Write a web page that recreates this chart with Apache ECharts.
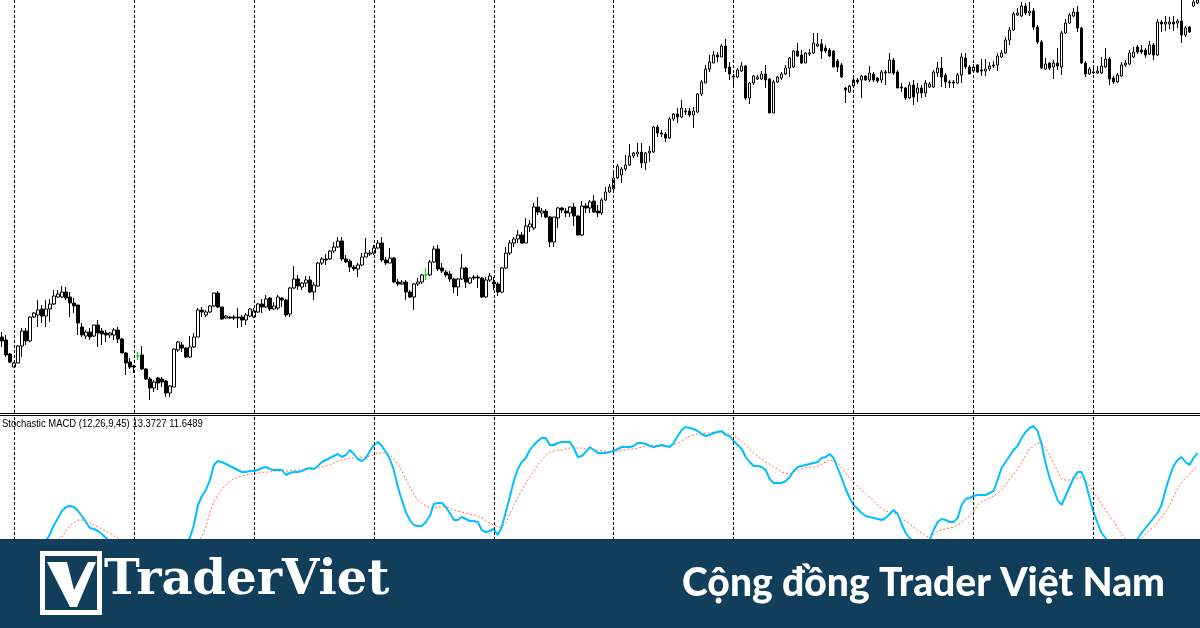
<!DOCTYPE html>
<html>
<head>
<meta charset="utf-8">
<script src="https://cdn.jsdelivr.net/npm/echarts@6/dist/echarts.min.js"></script>
<style>
  html, body { margin: 0; padding: 0; background: #ffffff; }
  #chart { width: 1200px; height: 628px; }
</style>
</head>
<body>
<div id="chart"></div>
<script>
// price bars (arbitrary price points), one entry per candle
const openP = [
  76,73,59,46,50,67,82,72,96,98, 104,97,104,109,116,116,121,116,110,108,
  86,77,81,77,88,82,80,78,78,83, 74,60,51,47,57,58,44,34,25,35,
  34,32,20,26,63,68,65,56,66,76, 103,98,101,107,120,106,95,96,96,96,
  96,93,97,96,101,109,106,115,104,105, 115,113,99,125,134,126,130,133,121,127,
  150,154,154,162,166,172,154,152,146,144, 148,156,159,160,165,170,153,150,155,131,
  129,131,121,116,129,131,138,138,151,164, 145,141,139,134,126,134,145,130,136,136,
  135,116,133,131,129,121,145,160,170,174, 178,170,186,185,206,200,202,196,171,195,
  205,202,200,206,197,178,207,205,212,202, 200,213,221,224,235,238,244,248,257,259,
  261,250,260,261,286,280,279,275,294,299, 296,302,302,298,301,319,330,344,350,358,
  356,367,346,337,336,342,347,315,330,334, 334,339,334,300,331,335,339,345,346,362,
  358,350,359,360,367,369,365,363,362,352, 348,325,321,327,333,333,337,333,339,335,
  333,340,340,353,341,326,325,315,328,320, 325,320,326,326,340,345,338,331,331,330,
  338,355,346,342,348,343,342,344,347,348, 356,360,373,383,398,397,407,400,402,386,
  371,344,350,346,350,346,380,390,397,401, 385,350,339,340,340,340,346,354,335,331,
  337,348,349,356,366,363,363,359,368,358, 391,389,389,391,390,392,378,386,407,410
];
const closeP = [
  72,58,51,50,67,82,72,96,100,103, 97,104,109,117,119,121,115,110,107,90,
  78,81,76,88,80,79,78,80,83,74, 60,50,46,46,57,44,34,25,31,30,
  31,20,27,64,71,65,56,66,76,103, 101,101,107,120,106,94,97,95,95,95,
  93,98,104,102,109,106,114,104,107,116, 113,98,125,134,127,130,133,121,128,150,
  154,153,162,166,172,154,151,146,144,148, 156,160,160,165,170,153,150,155,131,129,
  131,121,116,129,131,138,138,151,164,144, 142,138,134,126,134,145,131,135,135,135,
  116,133,137,129,121,145,160,170,174,178, 170,187,189,206,201,202,196,171,196,205,
  203,200,206,197,178,207,205,211,201,200, 213,221,226,235,247,244,248,257,260,261,
  250,260,262,286,280,279,275,294,299,296, 305,301,298,302,319,331,344,351,358,356,
  367,345,339,336,343,347,315,330,337,336, 339,333,300,331,336,339,345,355,362,357,
  350,360,360,370,369,362,362,357,346,346, 336,323,327,333,331,337,333,340,333,332,
  341,341,353,340,325,325,315,328,316,325, 320,330,329,341,345,336,331,330,330,338,
  356,346,339,346,341,342,344,347,348,357, 360,373,383,399,400,407,400,402,386,371,
  345,349,345,350,347,380,390,398,401,385, 350,339,344,341,342,347,354,334,331,338,
  348,350,360,361,361,361,358,368,358,391, 389,391,391,389,392,378,385,381,411,413
];
const lowP = [
  66,56,50,46,50,56,68,71,95,86, 90,86,91,108,115,115,113,96,100,78,
  76,74,73,76,66,68,71,75,73,70, 60,38,44,40,53,43,33,13,21,23,
  26,16,16,26,61,61,55,55,65,76, 96,96,100,106,105,93,94,94,93,85,
  86,88,96,95,100,100,105,102,103,103, 106,96,96,124,123,123,126,120,113,126,
  148,148,153,160,165,152,150,141,142,136, 147,156,157,158,164,151,148,150,130,127,
  128,113,115,103,127,129,133,137,150,142, 140,136,131,120,117,133,125,129,133,125,
  115,115,131,123,117,120,144,158,166,170, 169,170,181,183,198,196,195,166,166,185,
  200,196,196,187,178,177,200,200,200,196, 198,212,220,222,234,230,242,247,255,256,
  245,243,251,260,276,276,271,274,292,290, 295,298,296,285,300,317,330,341,350,351,
  356,341,333,326,335,341,313,309,328,333, 333,325,300,300,330,333,338,336,345,356,
  349,350,357,359,366,354,360,356,346,341, 335,310,320,325,329,315,332,331,331,330,
  330,328,340,338,325,321,313,314,308,311, 315,316,325,325,336,326,325,325,325,329,
  330,344,339,341,340,337,337,342,345,342, 355,359,368,382,397,396,398,397,383,369,
  344,343,343,334,343,338,379,389,396,381, 349,336,338,339,339,339,345,328,329,330,
  336,346,348,355,359,359,355,358,353,357, 381,382,384,382,385,370,376,380,406,409
];
const highP = [
  81,78,60,51,68,85,85,97,101,113, 108,113,114,123,123,127,126,121,115,108,
  90,83,85,88,93,85,83,81,85,86, 75,61,55,48,61,67,45,36,33,36,
  36,33,28,65,72,71,66,77,80,105, 106,103,108,120,122,106,98,97,98,105,
  98,100,105,105,110,114,118,116,111,118, 116,114,126,147,138,131,137,137,131,151,
  156,159,163,171,176,176,158,154,148,150, 160,175,163,168,173,176,156,165,156,134,
  133,133,123,130,135,139,145,153,167,168, 150,143,142,135,135,159,146,136,138,138,
  136,136,140,136,131,146,166,173,176,183, 181,195,193,210,216,205,204,197,196,206,
  206,205,207,210,198,212,210,213,218,208, 215,226,229,240,249,246,258,269,261,270,
  270,261,267,287,288,283,281,296,300,305, 313,305,305,306,320,333,348,358,362,361,
  369,374,351,339,345,351,348,331,338,338, 342,348,335,333,337,341,348,356,363,370,
  363,361,364,380,380,374,368,365,363,354, 350,326,328,336,335,338,338,347,341,336,
  343,343,360,355,343,330,326,331,333,330, 328,333,331,343,351,356,340,333,333,340,
  360,360,348,349,349,354,354,351,352,360, 363,376,386,401,405,411,410,411,405,388,
  373,355,351,353,365,382,394,400,405,407, 386,352,346,347,347,356,365,356,337,340,
  351,353,363,366,368,368,365,372,370,394, 393,397,396,397,394,413,387,387,413,413
];
// bars where open == close, drawn as green crosses
const dojiBars = [34, 106];
// dashed period separators (bar index)
const sepBars = [3, 33, 63, 93, 123, 153, 183, 213, 243, 273];

// Stochastic MACD (12,26,9,45): main line and signal line
const stochMain = [
  8,7,6,5,5,6,8,10,12,14, 16,19,26,35,42,49,53,54,53,49,
  44,38,32,31,29,26,22,18,15,12, 10,8,6,5,4,4,3,3,3,4,
  4,5,6,8,10,14,18,22,35,55, 64,70,80,95,99,98,96,94,92,90,
  88,88,89,89,90,92,93,91,90,90, 90,85,87,88,88,89,91,92,91,94,
  98,100,102,104,106,103,105,110,106,101, 99,102,109,115,118,114,108,101,90,73,
  60,48,40,35,34,34,38,44,56,57, 57,53,47,40,40,43,41,39,39,38,
  30,28,29,31,25,33,48,63,79,91, 98,102,110,115,119,122,122,115,115,117,
  118,118,118,112,103,104,108,113,110,107, 107,107,108,109,111,113,113,113,114,117,
  117,116,114,113,114,115,114,113,117,124, 130,133,132,131,129,126,124,125,127,128,
  129,125,124,119,115,111,103,98,94,94, 93,90,81,77,77,77,79,83,89,93,
  94,95,96,97,98,102,103,106,102,92, 82,71,62,55,51,47,44,43,42,41,
  40,42,46,50,46,36,27,22,19,15, 13,14,20,30,38,41,40,38,38,42,
  55,61,62,64,65,65,65,67,69,80, 92,98,104,110,114,122,128,132,134,129,
  116,97,82,71,60,55,64,73,82,88, 88,78,62,48,37,27,22,17,12,10,
  8,8,10,14,21,27,32,37,42,47, 55,70,83,94,100,103,98,95,102,107
];
const stochSignal = [
  4,4,3,3,3,4,5,6,7,9, 11,13,15,17,20,23,29,34,38,40,
  40,39,37,35,33,31,29,27,24,22, 19,16,14,12,10,8,7,6,5,5,
  5,5,6,7,8,10,12,15,19,20, 23,33,48,58,65,71,75,79,81,83,
  84,85,86,86,87,87,88,88,89,89, 89,89,89,90,90,90,90,91,91,92,
  93,94,95,97,99,100,101,102,102,102, 103,103,104,105,107,107,107,105,101,96,
  89,81,73,66,60,57,54,52,52,53, 53,53,52,50,49,48,47,46,45,44,
  42,39,37,35,33,33,37,46,55,62, 70,77,83,89,95,100,105,108,109,110,
  110,111,112,112,112,112,111,111,110,110, 109,109,108,109,109,110,110,111,111,112,
  113,114,115,115,114,114,113,114,115,117, 119,122,124,125,126,126,127,127,128,128,
  128,127,126,125,122,119,115,111,107,104, 101,98,96,93,91,88,87,86,88,90,
  91,92,93,93,94,96,98,100,99,97, 92,87,82,78,74,70,66,63,59,55,
  51,49,48,47,45,42,39,36,33,30, 27,24,22,25,29,30,31,32,33,35,
  38,41,44,48,55,58,60,62,64,67, 70,75,81,86,91,98,104,111,114,117,
  117,112,105,97,89,81,80,80,81,82, 83,79,74,68,62,56,50,44,39,32,
  26,21,19,18,19,21,26,30,33,38, 43,48,55,63,71,77,82,86,90,94
];

const bars = openP.map((_, i) => i);

const green = '#00e000';
const candles = bars.map(i => {
  const item = { value: [openP[i], closeP[i], lowP[i], highP[i]] };
  if (dojiBars.includes(i)) {
    item.itemStyle = {
      color: green, color0: green, borderColor: green,
      borderColor0: green, borderColorDoji: green
    };
  }
  return item;
});

const sepLine = {
  silent: true,
  symbol: 'none',
  animation: false,
  label: { show: false },
  lineStyle: { color: '#000', width: 1, type: [3, 2], opacity: 1 },
  data: sepBars.map(b => ({ xAxis: b }))
};

const chart = echarts.init(document.getElementById('chart'), null, { renderer: 'canvas' });

chart.setOption({
  animation: false,
  backgroundColor: '#ffffff',
  grid: [
    { left: -0.5, top: 0, width: 1200, height: 413 },
    { left: -0.5, top: 416, width: 1200, height: 144 }
  ],
  xAxis: [
    { type: 'category', gridIndex: 0, data: bars, boundaryGap: true, show: false },
    { type: 'category', gridIndex: 1, data: bars, boundaryGap: true, show: false }
  ],
  yAxis: [
    { type: 'value', gridIndex: 0, min: 0, max: 413, show: false },
    { type: 'value', gridIndex: 1, min: 0, max: 144, show: false }
  ],
  series: [
    {
      type: 'candlestick',
      xAxisIndex: 0,
      yAxisIndex: 0,
      barWidth: 3,
      itemStyle: {
        color: '#ffffff',
        color0: '#000000',
        borderColor: '#000000',
        borderColor0: '#000000',
        borderColorDoji: '#000000',
        borderWidth: 1
      },
      data: candles,
      markLine: sepLine
    },
    {
      type: 'line',
      xAxisIndex: 1,
      yAxisIndex: 1,
      data: stochMain,
      symbol: 'none',
      lineStyle: { color: '#00bfff', width: 2 },
      z: 3,
      markLine: sepLine
    },
    {
      type: 'line',
      xAxisIndex: 1,
      yAxisIndex: 1,
      data: stochSignal,
      symbol: 'none',
      lineStyle: { color: '#ff6a3d', width: 1, type: [2, 2] },
      z: 2
    }
  ],
  graphic: [
    { type: 'line', shape: { x1: 0, y1: 413.5, x2: 1200, y2: 413.5 }, style: { stroke: '#000', lineWidth: 1 }, silent: true },
    { type: 'line', shape: { x1: 0, y1: 415.5, x2: 1200, y2: 415.5 }, style: { stroke: '#000', lineWidth: 1 }, silent: true },
    {
      type: 'text', x: 2, y: 418, scaleX: 0.86, silent: true,
      style: { text: 'Stochastic MACD (12,26,9,45) 13.3727 11.6489', font: '11px "Liberation Sans"', fill: '#000', textVerticalAlign: 'top' }
    },
    // footer banner
    { type: 'rect', z: 100, silent: true, shape: { x: 0, y: 539, width: 1200, height: 89 }, style: { fill: '#113f5b' } },
    { type: 'rect', z: 101, silent: true, shape: { x: 42.5, y: 553.5, width: 57, height: 59 }, style: { fill: 'none', stroke: '#ffffff', lineWidth: 5 } },
    {
      type: 'polygon', z: 101, silent: true,
      shape: { points: [[47, 562], [67, 562], [74, 590], [88, 562], [96, 562], [77, 607], [70, 607]] },
      style: { fill: '#ffffff' }
    },
    {
      type: 'text', z: 101, x: 104, y: 582, silent: true,
      style: { text: 'TraderViet', font: 'bold 48px "DejaVu Serif"', fill: '#ffffff', textVerticalAlign: 'middle' }
    },
    {
      type: 'text', z: 101, x: 1165, y: 583, silent: true,
      style: { text: 'Cộng đồng Trader Việt Nam', font: '900 39px Lato', fill: '#ffffff', textAlign: 'right', textVerticalAlign: 'middle' }
    }
  ]
});
</script>
</body>
</html>
